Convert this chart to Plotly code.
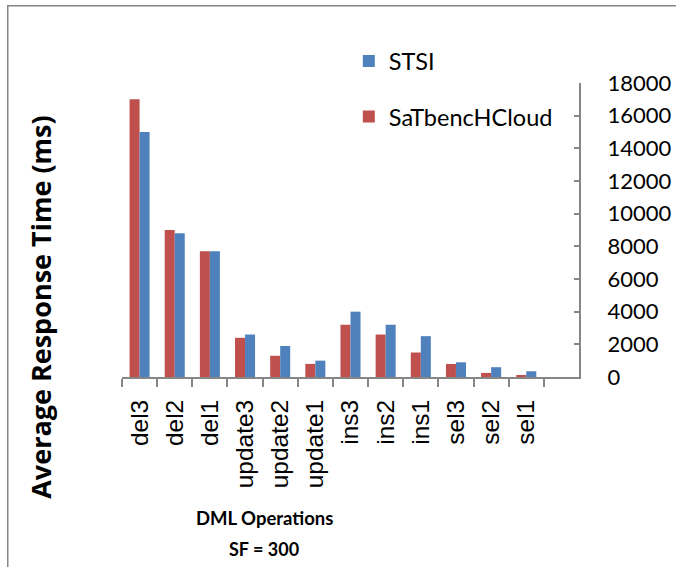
import plotly.graph_objects as go

# DML operations (x categories) and response times in ms
operations = ["del3", "del2", "del1", "update3", "update2", "update1",
              "ins3", "ins2", "ins1", "sel3", "sel2", "sel1"]
satbench_ms = [17000, 9000, 7700, 2400, 1300, 800, 3200, 2600, 1500, 800, 250, 100]
stsi_ms = [15000, 8800, 7700, 2600, 1900, 1000, 4000, 3200, 2500, 900, 600, 350]
y_ticks = list(range(0, 18001, 2000))

RED = "#C0504D"
BLUE = "#4F81BD"
AXIS = "#868686"
LABEL_FONT = "Lato, sans-serif"
TITLE_FONT = "Open Sans, sans-serif"
TICK_FONT = "Liberation Sans, Arial, sans-serif"

fig = go.Figure()

fig.add_trace(go.Bar(
    x=operations, y=satbench_ms, name="SaTbencHCloud",
    marker=dict(color=RED, line=dict(width=0)),
    legendgroup="sat", legendrank=2,
))
fig.add_trace(go.Bar(
    x=operations, y=stsi_ms, name="STSI",
    marker=dict(color=BLUE, line=dict(width=0)),
    legendgroup="stsi", legendrank=1,
))

# axis titles drawn as annotations (placed like the Excel original)
fig.add_annotation(
    text="<b>Average Response Time (ms)</b>", textangle=-90,
    xref="paper", yref="paper", x=-0.179, y=0.236,
    xanchor="center", yanchor="middle", showarrow=False,
    font=dict(family=TITLE_FONT, size=27, color="black"),
)
fig.add_annotation(
    text="<b>DML Operations</b>",
    xref="paper", yref="paper", x=0.311, y=-0.480,
    xanchor="center", yanchor="middle", showarrow=False,
    font=dict(family=LABEL_FONT, size=18.5, color="black"),
)
fig.add_annotation(
    text="<b>SF = 300</b>",
    xref="paper", yref="paper", x=0.311, y=-0.586,
    xanchor="center", yanchor="middle", showarrow=False,
    font=dict(family=LABEL_FONT, size=18, color="black"),
)

# chart frame (only left/top edges fall inside the window)
fig.add_shape(
    type="rect", xref="paper", yref="paper",
    x0=-0.250, x1=1.4, y0=-1.0, y1=1.263,
    line=dict(color=AXIS, width=1.5), fillcolor="rgba(0,0,0,0)", layer="below",
)

fig.update_layout(
    width=676, height=567,
    margin=dict(l=122, r=97, t=83, b=189.5, autoexpand=False),
    plot_bgcolor="white", paper_bgcolor="white",
    barmode="group", bargap=0.43, bargroupgap=0,
    showlegend=True,
    legend=dict(
        xref="container", yref="container",
        x=0.516, y=0.931, xanchor="left", yanchor="top",
        traceorder="grouped", tracegroupgap=22,
        font=dict(family=LABEL_FONT, size=23.5, color="black"),
        bgcolor="rgba(0,0,0,0)",
    ),
)
fig.update_xaxes(
    range=[-0.5, 12.5], automargin=False,
    tickson="boundaries", ticks="outside", ticklen=8, tickwidth=2, tickcolor=AXIS,
    tickangle=-90, tickfont=dict(family=TICK_FONT, size=24.5, color="black"),
    ticklabelstandoff=11,
    showline=True, linecolor=AXIS, linewidth=2, showgrid=False,
)
fig.update_yaxes(
    side="right", range=[0, 18000], tickvals=y_ticks, tickformat="d",
    automargin=False,
    ticks="inside", ticklen=5, tickwidth=2, tickcolor=AXIS,
    tickfont=dict(family=LABEL_FONT, size=22, color="black"),
    showline=True, linecolor=AXIS, linewidth=2, showgrid=False, zeroline=False,
    ticklabelstandoff=22,
)

# drop the browser's default body margin so the figure sits at the window origin
fig.write_html(
    "out.html",
    config={"displayModeBar": False},
    post_script="document.body.style.margin='0';document.body.style.overflow='hidden';",
)
